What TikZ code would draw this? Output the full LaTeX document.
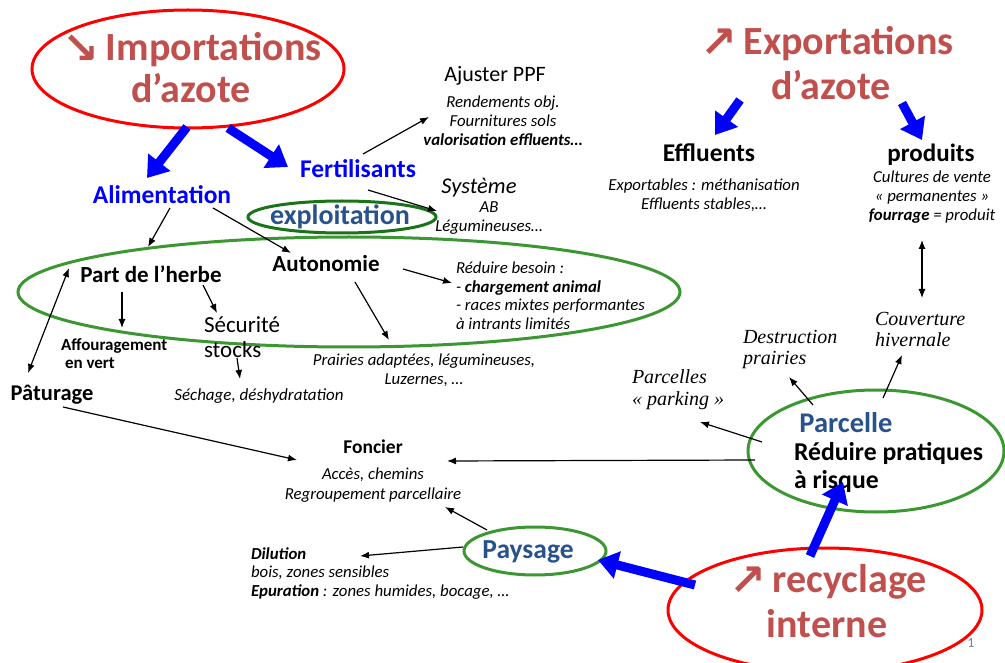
\documentclass[tikz,border=0pt]{standalone}
\usepackage{fontspec}
\setmainfont{Carlito}
\newfontfamily\tnr{Liberation Serif}
\newfontfamily\djv{DejaVu Sans}
\usetikzlibrary{arrows.meta,calc,shapes.geometric}
\definecolor{tred}{HTML}{C0504D}
\definecolor{pblue}{RGB}{0,0,255}
\definecolor{dblue}{RGB}{40,82,140}
\definecolor{lgreen}{RGB}{60,150,50}
\definecolor{dgreen}{RGB}{25,115,25}
\newcommand\fz[2]{\fontsize{#1}{#2}\selectfont}
\newcommand\bigarrglyph[1]{{\djv\fz{44}{44}\raisebox{-3pt}{#1}}}
\begin{document}
\begin{tikzpicture}[x=1pt,y=-1pt,
  txt/.style={inner sep=0pt,outer sep=0pt},
  ell/.style={ellipse,inner sep=0pt,outer sep=0pt,line width=3pt},
  bigarr/.style={draw=pblue,line width=9pt,-{Triangle[length=20pt,width=27pt]}},
  thinarr/.style={draw=black,line width=1.2pt,-{Latex[length=9pt,width=7pt]}},
  dblarr/.style={draw=black,line width=1.2pt,{Latex[length=9pt,width=7pt]}-{Latex[length=9pt,width=7pt]}},
  small/.style={txt,font={\fz{16.8}{19}\itshape}}]
\useasboundingbox (0,0) rectangle (1005,663);

% ---------- titles
\node[txt,anchor=base,font={\fz{40}{40}\bfseries},text=tred] (imp1) at (192,61) {\bigarrglyph{↘}\,Importations};
\node[txt,anchor=base,font={\fz{40}{40}\bfseries},text=tred] (imp2) at (191,103) {d’azote};
\node[txt,anchor=base,font={\fz{40}{40}\bfseries},text=tred] (exp1) at (827,55) {\bigarrglyph{↗}\,Exportations};
\node[txt,anchor=base,font={\fz{40}{40}\bfseries},text=tred] (exp2) at (831,100) {d’azote};
\node[txt,anchor=base,font={\fz{40}{40}\bfseries},text=tred] (rec1) at (828,592) {\bigarrglyph{↗}\,recyclage};
\node[txt,anchor=base,font={\fz{40}{40}\bfseries},text=tred] (rec2) at (827,637) {interne};

% ---------- ellipses
\node[ell,draw=red,minimum width=312pt,minimum height=118pt] (impE) at (188,69) {};
\node[ell,draw=red,minimum width=314pt,minimum height=124pt] (recE) at (825,610) {};
\node[ell,draw=lgreen,minimum width=662pt,minimum height=110pt] (bigE) at (349,292) {};
\node[ell,draw=dgreen,minimum width=188pt,minimum height=32pt] (explE) at (342,217) {};
\node[ell,draw=lgreen,minimum width=142pt,minimum height=48pt] (paysE) at (535,551) {};
\node[ell,draw=lgreen,minimum width=256pt,minimum height=122pt] (parcE) at (876,451) {};

% ---------- left side texts
\node[txt,anchor=base,font={\fz{25.5}{30}\bfseries},text=pblue] (fert) at (358,178) {Fertilisants};
\node[txt,anchor=base,font={\fz{25.5}{30}\bfseries},text=pblue] (alim) at (162,204) {Alimentation};
\node[txt,anchor=base,font={\fz{28}{30}\bfseries},text=dblue] (expl) at (340,225) {exploitation};
\node[txt,anchor=base,font={\fz{22}{26}}] (ppf) at (495,82) {Ajuster PPF};
\node[small,align=center] (ppfd) at (503,121) {Rendements obj.\\Fournitures sols\\\textbf{valorisation effluents…}};
\node[txt,anchor=base,font={\fz{22.5}{26}\itshape}] (sys) at (479,194) {Système};
\node[small,align=center] (sysd) at (489,218.5) {AB\\Légumineuses…};
\node[txt,anchor=base,font={\fz{23}{26}\bfseries}] (part) at (151,283) {Part de l’herbe};
\node[txt,anchor=base,font={\fz{23}{26}\bfseries}] (autn) at (326,272) {Autonomie};
\node[txt,anchor=west,align=left,font={\fz{16.8}{18.5}\itshape}] (reduc) at (456,295.5) {Réduire besoin :\\- \textbf{chargement animal}\\- races mixtes performantes\\à intrants limités};
\node[small,align=center] (prair) at (424,370.5) {Prairies adaptées, légumineuses,\\Luzernes, …};
\node[txt,anchor=west,align=left,font={\fz{17}{18}\bfseries}] (affou) at (61,354) {Affouragement\\\hspace*{4pt}en vert};
\node[txt,anchor=west,align=left,font={\fz{23}{25}}] (secu) at (204,337) {Sécurité\\stocks};
\node[txt,anchor=base,font={\fz{17}{20}\itshape}] (sech) at (259,400) {Séchage, déshydratation};
\node[txt,anchor=base,font={\fz{22.5}{26}\bfseries}] (patur) at (52,400) {Pâturage};
\node[txt,anchor=base,font={\fz{19.5}{22}\bfseries}] (fonc) at (373,453) {Foncier};
\node[txt,align=center,font={\fz{16.8}{20}\itshape}] (acces) at (373,485) {Accès, chemins\\Regroupement parcellaire};
\node[txt,anchor=west,align=left,font={\fz{16.8}{18.5}\itshape}] (dil) at (251,573.5) {\textbf{Dilution}\\bois, zones sensibles\\\textbf{Epuration} : zones humides, bocage, …};
\node[txt,anchor=base,font={\fz{27.5}{30}\bfseries},text=dblue] (pays) at (528,558) {Paysage};

% ---------- right side texts
\node[txt,anchor=base,font={\fz{25.5}{30}\bfseries}] (efflu) at (709,162) {Effluents};
\node[small,align=center] (exptb) at (704,195) {Exportables : méthanisation\\Effluents stables,…};
\node[txt,anchor=base,font={\fz{25}{30}\bfseries}] (prod) at (931,162) {produits};
\node[small,align=center] (cult) at (932,197) {Cultures de vente\\«~permanentes~»\\\textbf{fourrage} = produit};
\node[txt,anchor=west,align=left,font={\tnr\fz{20}{21}\itshape}] (couv) at (875,329.8) {Couverture\\hivernale};
\node[txt,anchor=west,align=left,font={\tnr\fz{20}{21}\itshape}] (destr) at (743,349.8) {Destruction\\prairies};
\node[txt,anchor=west,align=left,font={\tnr\fz{20}{22}\itshape}] (parking) at (632,389.3) {Parcelles\\«~parking~»};
\node[txt,anchor=base,font={\fz{28.5}{30}\bfseries},text=dblue] (parcT) at (846,432) {Parcelle};
\node[txt,anchor=west,align=left,font={\fz{25.7}{28}\bfseries}] (redpr) at (794,467.6) {Réduire pratiques\\à risque};
\node[txt,anchor=base,font={\fz{14}{16}},text=gray] (pnum) at (971,647) {1};

% ---------- big blue arrows
\draw[bigarr] ($(impE)+(-1,58)$) -- ($(alim.base)+(-15,-26)$);
\draw[bigarr] ($(impE)+(40,59)$) -- ($(fert.base)+(-70,-11)$);
\draw[bigarr] ($(exp2.base)+(-91,0)$) -- ($(efflu.base)+(6,-27)$);
\draw[bigarr] ($(exp2.base)+(71,3)$) -- ($(prod.base)+(-9,-22)$);
\draw[bigarr] ($(recE)+(-130,-25)$) -- ($(paysE)+(63,9)$);
\draw[bigarr] ($(recE)+(-15,-54)$) -- ($(parcE)+(-33,31)$);

% ---------- thin arrows
\draw[thinarr] ($(fert.base)+(5,-24)$) -- ($(ppfd)+(-74,-4)$);
\draw[thinarr] ($(fert.base)+(10,12)$) -- ($(sysd)+(-52,-7.5)$);
\draw[thinarr] ($(alim.base)+(8,4)$) -- ($(bigE)+(-201,-45)$);
\draw[thinarr] ($(alim.base)+(51,4)$) -- ($(autn.base)+(-35,-19)$);
\draw[dblarr] ($(part.base)+(-82,-15)$) -- ($(patur.base)+(-24,-27)$);
\draw[thinarr] ($(part.base)+(-29,9)$) -- ($(affou.west)+(61,-26)$);
\draw[thinarr] ($(part.base)+(52,2)$) -- ($(secu.west)+(13,-24)$);
\draw[thinarr] ($(secu.west)+(33,21)$) -- ($(sech.base)+(-19,-21)$);
\draw[thinarr] ($(patur.base)+(11,7)$) -- ($(fonc.base)+(-76,7)$);
\draw[thinarr] ($(autn.base)+(77,-3)$) -- ($(reduc.west)+(-4,-12.5)$);
\draw[thinarr] ($(autn.base)+(29,10)$) -- ($(prair)+(-35,-30.5)$);
\draw[thinarr] ($(parcE)+(-121,9)$) -- ($(fonc.base)+(74,8)$);
\draw[thinarr] ($(paysE)+(-48,-21)$) -- ($(acces)+(72,22)$);
\draw[thinarr] ($(paysE)+(-72,-4)$) -- ($(dil.west)+(109,-17.5)$);
\draw[thinarr] ($(parcE)+(-114,-9)$) -- ($(parking.west)+(68,32.7)$);
\draw[thinarr] ($(parcE)+(-63,-46)$) -- ($(destr.west)+(46,27.2)$);
\draw[thinarr] ($(parcE)+(7,-53)$) -- ($(couv.west)+(27,25.2)$);
\draw[dblarr] ($(cult)+(-10,43)$) -- ($(couv.west)+(47,-31.8)$);
\end{tikzpicture}
\end{document}
